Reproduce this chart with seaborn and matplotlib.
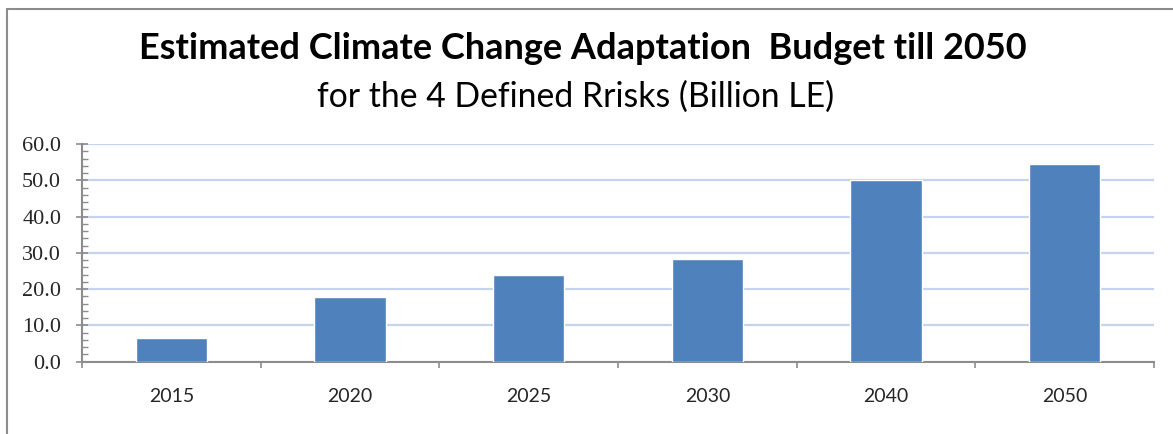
import matplotlib
matplotlib.use("Agg")
import matplotlib.pyplot as plt
import seaborn as sns
import pandas as pd
from matplotlib.ticker import MultipleLocator, FixedLocator
from matplotlib.lines import Line2D

years = ["2015", "2020", "2025", "2030", "2040", "2050"]
budget = [6.5, 17.8, 23.9, 28.3, 50.2, 54.5]
yticks = [0, 10, 20, 30, 40, 50, 60]

sns.set_theme(style="white")
plt.rcParams["font.family"] = ["Lato", "DejaVu Sans"]

df = pd.DataFrame({"year": years, "budget": budget})

fig = plt.figure(figsize=(11.73, 4.34), dpi=100)
ax = fig.add_axes([0.0699, 0.1666, 0.9139, 0.5014])

sns.barplot(data=df, x="year", y="budget", color="#4f81bd", saturation=1,
            width=0.40, ax=ax, zorder=3)

ax.set_ylim(0, 60)
ax.set_xlim(-0.5, len(years) - 0.5)
ax.yaxis.set_major_locator(FixedLocator(yticks))
ax.yaxis.set_minor_locator(MultipleLocator(2))
ax.set_yticklabels([f"{v:.1f}" for v in yticks], fontfamily="Liberation Serif", fontsize=16)
ax.grid(axis="y", color="#c6d3ee", linewidth=1.6, zorder=0)
ax.set_axisbelow(True)

for s in ["top", "right"]:
    ax.spines[s].set_visible(False)
for s in ["left", "bottom"]:
    ax.spines[s].set_color("#8c8c8c")
    ax.spines[s].set_linewidth(1.5)

ax.tick_params(axis="y", which="major", direction="inout", length=8, width=1.2,
               color="#8c8c8c", pad=11, left=True)
ax.tick_params(axis="y", which="minor", direction="in", length=4, width=1.0,
               color="#8c8c8c", left=True)
ax.xaxis.set_minor_locator(FixedLocator([i - 0.5 for i in range(len(years) + 1)]))
ax.tick_params(axis="x", which="major", length=0, pad=19, labelsize=14)
ax.tick_params(axis="x", which="minor", direction="out", length=4, width=1.2,
               color="#8c8c8c", bottom=True)
ax.set_xlabel("")
ax.set_ylabel("")

fig.text(0.497, 0.888, "Estimated Climate Change Adaptation  Budget till 2050",
         ha="center", va="center", fontsize=26, fontweight="bold", color="black")
fig.text(0.491, 0.777, "for the 4 Defined Rrisks (Billion LE)",
         ha="center", va="center", fontsize=24.3, color="black")

fig.add_artist(Line2D([7/1173, 7/1173], [0, 1 - 9/434], transform=fig.transFigure,
                      color="#8c8c8c", linewidth=1.5))
fig.add_artist(Line2D([7/1173, 1], [1 - 9/434, 1 - 9/434], transform=fig.transFigure,
                      color="#8c8c8c", linewidth=1.5))

fig.savefig("out.png", dpi=100, facecolor="white")
